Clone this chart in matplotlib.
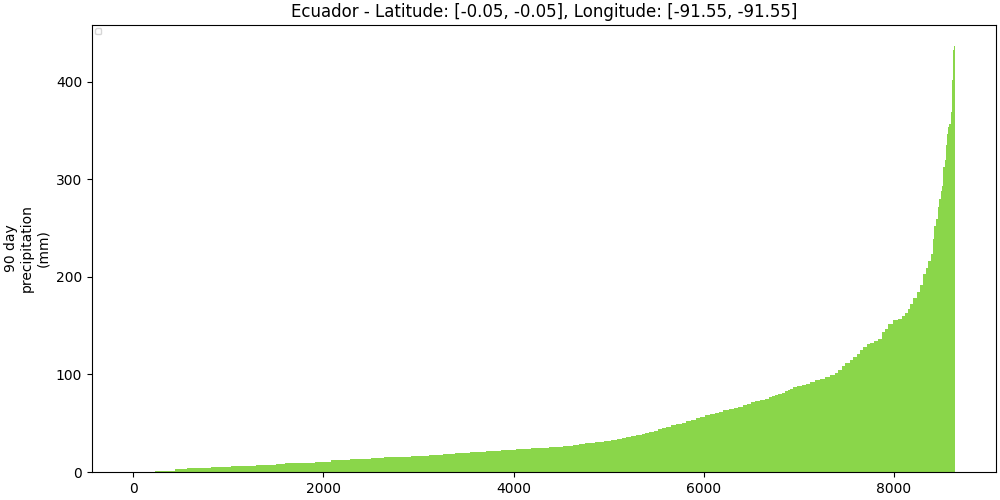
import matplotlib
matplotlib.use('Agg')
import matplotlib.pyplot as plt
import numpy as np

# sorted 90-day precipitation, stored as runs: first rank of each run and its value (mm)
n_days = 8640
run_start = [0, 228, 436, 569, 815, 1025, 1289, 1500, 1597, 1745, 1913, 2078, 2278, 2500,
             2640, 2763, 2921, 3114, 3261, 3387, 3545, 3710, 3871, 4025, 4186, 4376, 4523,
             4629, 4685, 4749, 4861, 4949, 5020, 5083, 5139, 5185, 5231, 5283, 5347, 5382,
             5424, 5481, 5523, 5558, 5607, 5650, 5713, 5769, 5818, 5861, 5915, 5957, 6010,
             6062, 6115, 6157, 6202, 6262, 6315, 6360, 6413, 6455, 6494, 6536, 6588, 6641,
             6683, 6722, 6750, 6781, 6817, 6852, 6880, 6905, 6940, 6982, 7028, 7073, 7115,
             7168, 7220, 7273, 7326, 7378, 7413, 7449, 7483, 7536, 7571, 7607, 7641, 7676,
             7712, 7747, 7789, 7834, 7870, 7904, 7940, 7992, 8045, 8081, 8115, 8150, 8168,
             8203, 8239, 8273, 8308, 8333, 8361, 8389, 8407, 8424, 8442, 8460, 8477, 8494,
             8508, 8519, 8534, 8547, 8558, 8572, 8582, 8597, 8611, 8622, 8632]
run_value = [0.0, 1.3, 2.7, 3.7, 4.8, 5.8, 6.8, 7.8, 8.9, 9.6, 10.6, 12.0, 13.0, 14.0,
             15.0, 15.7, 16.8, 17.8, 18.8, 19.8, 20.9, 21.9, 22.9, 24.0, 25.0, 26.0, 27.0,
             28.1, 29.1, 30.1, 31.2, 32.2, 33.2, 34.2, 35.3, 36.3, 37.3, 38.4, 39.4, 40.4,
             41.4, 42.5, 43.8, 45.2, 46.6, 48.0, 49.3, 50.7, 52.1, 53.8, 55.3, 56.9, 58.2,
             59.6, 60.7, 62.0, 63.4, 64.8, 66.1, 67.1, 68.5, 69.9, 71.3, 72.3, 73.6, 75.1,
             76.4, 77.7, 78.8, 79.8, 81.2, 82.6, 83.9, 85.3, 86.7, 88.0, 89.3, 90.5, 92.5,
             93.9, 95.6, 97.0, 99.0, 101.8, 104.9, 108.6, 112.1, 114.4, 117.8, 121.3, 125.0, 128.5,
             130.9, 132.6, 134.3, 136.8, 143.6, 147.0, 152.2, 155.9, 157.3, 160.0, 163.5, 167.6, 172.0,
             177.9, 184.1, 191.6, 202.9, 208.7, 216.6, 223.4, 238.9, 252.5, 259.4, 271.5, 280.0, 288.5,
             293.7, 312.6, 319.4, 334.8, 346.8, 353.7, 357.1, 369.2, 401.6, 432.5, 436.5]

title = 'Ecuador - Latitude: [-0.05, -0.05], Longitude: [-91.55, -91.55]'

starts = np.array(run_start)
widths = np.diff(np.append(starts, n_days))

fig, ax = plt.subplots(figsize=(10, 5), dpi=100)
fig.subplots_adjust(left=0.092, right=0.996, bottom=0.056, top=0.95)

ax.bar(starts, run_value, width=widths, align='edge', color='#8ad64a', linewidth=0)

ax.set_title(title)
ax.set_ylabel('90 day\nprecipitation\n(mm)')
# empty legend box, as in the original
ax.legend(handles=[], loc='upper left', fontsize=5)

fig.savefig('out.png')
